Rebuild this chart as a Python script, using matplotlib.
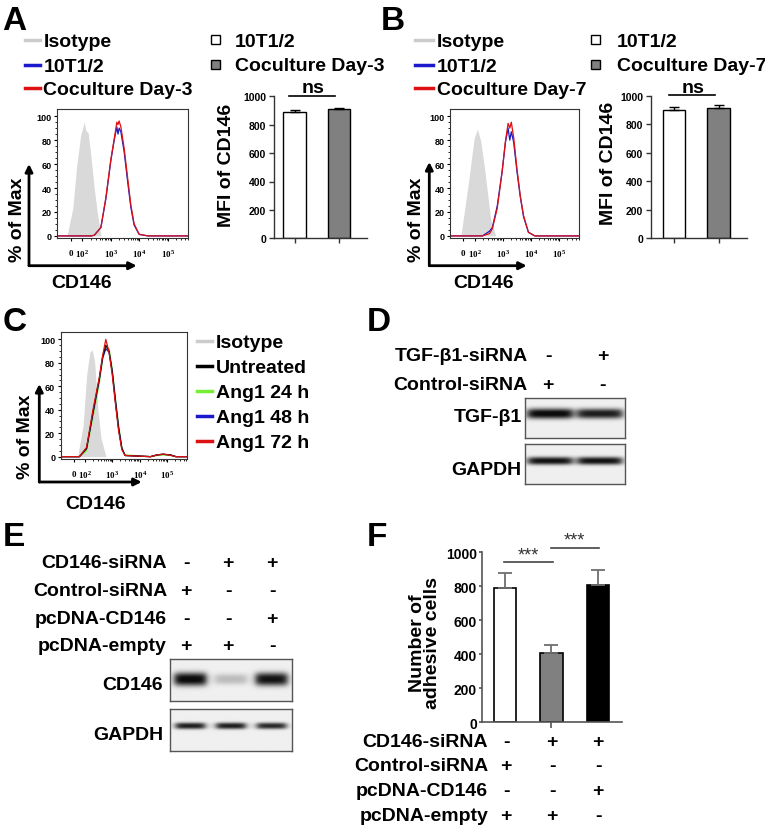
import numpy as np
import matplotlib
matplotlib.use('Agg')
import matplotlib.pyplot as plt
from matplotlib.patches import Rectangle, FancyArrowPatch
from matplotlib.lines import Line2D

plt.rcParams['font.family'] = ['Liberation Sans', 'DejaVu Sans']
plt.rcParams['mathtext.fontset'] = 'custom'
plt.rcParams['mathtext.rm'] = 'Liberation Serif:bold'
plt.rcParams['mathtext.bf'] = 'Liberation Serif:bold'

W, H = 765, 828

# ---- flow cytometry histograms: CD146 intensity vs % of max ----
flow_ticks = [0, 1e2, 1e3, 1e4, 1e5]
flow_ticklabels = [r'$0$', r'$10^2$', r'$10^3$', r'$10^4$', r'$10^5$']

a_iso_x = [-35, 16, 51, 85, 116, 133, 160, 199, 260, 341, 446]
a_iso_y = [0, 23, 59, 84, 95, 88, 86, 67, 40, 18, 1]
a_red_x = [-145, 200, 260, 446, 668, 1000, 1309, 1622, 1780, 1950, 2244, 2931, 3890, 5010, 6546, 9840, 20000, 560000]
a_red_y = [0, 0, 0.5, 7, 32, 64, 81, 95, 93, 96, 91, 73, 48, 26, 10, 1.4, 0, 0]
a_blue_y = [0, 0, 0.5, 7, 31, 63, 80, 91, 85, 90, 87, 70, 45, 24, 9, 1.2, 0, 0]

b_iso_x = [-23, 45, 96, 126, 165, 217, 283, 370, 555]
b_iso_y = [0, 45, 82, 89, 79, 59, 37, 14, 0.5]
b_red_x = [-145, 189, 340, 426, 636, 953, 1245, 1549, 1778, 2018, 2455, 3206, 4188, 5495, 8222, 13960, 560000]
b_red_y = [0, 0, 2, 6, 23, 54, 79, 94, 90, 95, 82, 56, 34, 17, 3, 0, 0]
b_blue_y = [0, 0, 4, 7, 25, 54, 78, 90, 80, 87, 78, 54, 33, 16, 3, 0, 0]

c_iso_x = [34, 85, 116, 152, 188, 228, 298, 388, 583]
c_iso_y = [0, 27, 69, 89, 91, 81, 41, 16, 0.5]
c_x = [-145, 51, 116, 199, 341, 446, 583, 767, 1000, 1309, 1706, 2244, 2931, 25000, 44000, 72000, 130000, 210000, 560000]
c_untreated = [0, 0, 7, 38, 67, 85, 95, 90, 72, 47, 24, 7, 1, 0, 1.5, 2, 1.5, 0, 0]
c_ang24 = [0, 0, 5, 34, 63, 83, 93, 92, 75, 50, 27, 8, 1.5, 0, 1.0, 1.5, 1.0, 0, 0]
c_ang48 = [0, 0, 7, 37, 66, 84, 92, 89, 73, 48, 25, 7, 1, 0, 1.6, 2, 1.6, 0, 0]
c_ang72 = [0, 0, 8, 40, 68, 86, 100, 89, 70, 45, 22, 6, 1, 0, 1.5, 2.2, 1.2, 0, 0]

# ---- MFI bar charts ----
a_groups = ['10T1/2', 'Coculture Day-3']
a_mfi = [887, 911]
a_err = [19, 9]
b_groups = ['10T1/2', 'Coculture Day-7']
b_mfi = [900, 912]
b_err = [22, 23]

# ---- adhesion assay ----
f_cells = [790, 408, 808]
f_err = [88, 47, 90]

# ---- western blot band intensities (relative) ----
d_tgf = [1.0, 0.9]
d_gapdh = [0.95, 0.95]
e_cd146 = [1.0, 0.22, 0.95]
e_gapdh = [0.9, 0.9, 0.85]

d_rows = ['TGF-β1-siRNA', 'Control-siRNA']
d_signs = [['-', '+'], ['+', '-']]
e_rows = ['CD146-siRNA', 'Control-siRNA', 'pcDNA-CD146', 'pcDNA-empty']
e_signs = [['-', '+', '+'], ['+', '-', '-'], ['-', '-', '+'], ['+', '+', '-']]

fig = plt.figure(figsize=(W / 100, H / 100), dpi=100)


def frac(x, y):
    return x / W, 1 - y / H


def box(l, t, r, b):
    return [l / W, 1 - b / H, (r - l) / W, (b - t) / H]


def txt(x, y, s, size=14, **kw):
    kw.setdefault('va', 'baseline')
    kw.setdefault('ha', 'left')
    kw.setdefault('fontweight', 'bold')
    fig.text(x / W, 1 - y / H, s, fontsize=size, **kw)


def arrow(x0, y0, x1, y1):
    fig.add_artist(FancyArrowPatch(frac(x0, y0), frac(x1, y1), transform=fig.transFigure,
                                   arrowstyle='-|>', mutation_scale=11, lw=2, color='black',
                                   shrinkA=0, shrinkB=0))


def hline(x0, x1, y, color, lw=2.5):
    fig.add_artist(Line2D([x0 / W, x1 / W], [1 - y / H] * 2, color=color, lw=lw,
                          transform=fig.transFigure))


def square(xc, yc, color, size=9):
    fig.add_artist(Rectangle(((xc - size / 2) / W, 1 - (yc + size / 2) / H), size / W, size / H,
                             transform=fig.transFigure, facecolor=color, edgecolor='black', lw=1))


def flow_axes(l, t, r, b):
    ax = fig.add_axes(box(l, t, r, b))
    ax.set_xscale('symlog', linthresh=100, linscale=0.36, subs=[2, 3, 4, 5, 6, 7, 8, 9])
    ax.set_xlim(-120, 5.2e5)
    ax.set_ylim(-2, 106)
    ax.set_xticks(flow_ticks)
    ax.set_xticklabels(flow_ticklabels)
    ax.set_yticks(range(0, 101, 20))
    ax.set_yticks(range(0, 101, 5), minor=True)
    ax.tick_params(labelsize=6.5, length=2.5, width=0.8, pad=1.5)
    ax.tick_params(which='minor', length=1.5, width=0.6)
    ax.tick_params(axis='x', labelsize=6.5, pad=4)
    for lab in ax.get_yticklabels():
        lab.set_fontweight('bold')
    for s in ax.spines.values():
        s.set_color('#333')
        s.set_linewidth(0.8)
    return ax


def mfi_axes(l, t, r, b, vals, errs, xlim):
    ax = fig.add_axes(box(l, t, r, b))
    x = np.arange(len(vals))
    ax.bar(x, vals, width=0.51, color=['white', '#808080'], edgecolor='black', lw=1)
    ax.errorbar(x, vals, yerr=[np.zeros(len(vals)), errs], fmt='none', ecolor='black',
                elinewidth=1, capsize=3.5, capthick=1)
    ax.set_xlim(xlim)
    ax.set_ylim(0, 1000)
    ax.set_yticks(range(0, 1001, 200))
    ax.set_xticks(x)
    ax.set_xticklabels([])
    ax.spines[['top', 'right']].set_visible(False)
    for s in ax.spines.values():
        s.set_color('#333')
        s.set_linewidth(1)
    ax.tick_params(labelsize=7.5, length=3.5, width=1, pad=2, colors='#333', labelcolor='black')
    for lab in ax.get_yticklabels():
        lab.set_fontweight('bold')
    ax.plot([-0.12, 0.91], [1004, 1004], color='black', lw=1.2, clip_on=False)
    ax.text(0.42, 1028, 'ns', ha='center', va='baseline', fontsize=14, fontweight='bold', clip_on=False)
    return ax


def blot(l, t, r, b, levels, hw, yc, thick):
    ax = fig.add_axes(box(l, t, r, b))
    n = len(levels)
    X, Y = np.meshgrid(np.linspace(0, n, 400), np.linspace(0, 1, 120))
    img = np.full(X.shape, 0.94)
    for i, lv in enumerate(levels):
        across = 1 / (1 + np.exp((np.abs(X - (i + 0.5)) - hw) / 0.05))
        down = np.exp(-np.abs((Y - yc) / (thick * (0.75 + 0.25 * lv))) ** 2.5)
        img -= 0.92 * lv * across * down
    img = np.clip(img, 0.05, 1)
    ax.imshow(img, cmap='gray', vmin=0, vmax=1, extent=(0, n, 1, 0), aspect='auto',
              interpolation='bilinear')
    ax.set_xticks([])
    ax.set_yticks([])
    for s in ax.spines.values():
        s.set_color('#555')
        s.set_linewidth(1)
    return ax


# ---------------- panel letters ----------------
for letter, x, y in [('A', 2, 30), ('B', 381, 30), ('C', 3, 331), ('D', 367, 331),
                     ('E', 3, 545.5), ('F', 367, 545.5)]:
    txt(x, y, letter, size=24)

# ---------------- panel A ----------------
ax = flow_axes(57.3, 110, 188.3, 239.3)
ax.fill_between(a_iso_x, a_iso_y, color='#d9d9d9', lw=0)
ax.plot(a_red_x, a_blue_y, color='#1a1acc', lw=0.9)
ax.plot(a_red_x, a_red_y, color='#dd1111', lw=0.9)
for yb, col, lab in zip([46.7, 71.7, 95], ['#cccccc', '#1a1acc', '#dd1111'],
                        ['Isotype', a_groups[0], a_groups[1]]):
    hline(25, 40, yb - 6, col)
    txt(43.3, yb, lab)
arrow(29, 266.7, 29, 165)
arrow(29, 266.7, 136.7, 266.7)
txt(18, 220, '% of Max', rotation=90, ha='center', va='center')
txt(82, 288.3, 'CD146', ha='center')

mfi_axes(274, 97.3, 366.7, 239.3, a_mfi, a_err, (-0.467, 1.625))
txt(226.7, 165, 'MFI of CD146', rotation=90, ha='center', va='center')
for yb, col, lab in zip([46.7, 71], ['white', '#808080'], a_groups):
    square(215.5, yb - 6, col)
    txt(235, yb, lab)

# ---------------- panel B ----------------
ax = flow_axes(450, 110, 579, 239.3)
ax.fill_between(b_iso_x, b_iso_y, color='#d9d9d9', lw=0)
ax.plot(b_red_x, b_blue_y, color='#1a1acc', lw=0.9)
ax.plot(b_red_x, b_red_y, color='#dd1111', lw=0.9)
for yb, col, lab in zip([46.7, 71.7, 95], ['#cccccc', '#1a1acc', '#dd1111'],
                        ['Isotype', b_groups[0], b_groups[1]]):
    hline(415, 433, yb - 6, col)
    txt(437, yb, lab)
arrow(429.3, 266.7, 429.3, 163)
arrow(429.3, 266.7, 526.7, 266.7)
txt(417, 220, '% of Max', rotation=90, ha='center', va='center')
txt(484, 288.3, 'CD146', ha='center')

mfi_axes(650.7, 96.7, 746.7, 239.3, b_mfi, b_err, (-0.52, 1.625))
txt(608.3, 163, 'MFI of CD146', rotation=90, ha='center', va='center')
for yb, col, lab in zip([46.7, 71], ['white', '#808080'], b_groups):
    square(595, yb - 6, col)
    txt(616.7, yb, lab)

# ---------------- panel C ----------------
ax = flow_axes(60.7, 333.3, 186.7, 460)
ax.fill_between(c_iso_x, c_iso_y, color='#d9d9d9', lw=0)
c_series = [('Untreated', c_untreated, 'black'), ('Ang1 24 h', c_ang24, '#77ee33'),
            ('Ang1 48 h', c_ang48, '#1a1acc'), ('Ang1 72 h', c_ang72, '#dd1111')]
for name, ys, col in [c_series[1], c_series[2], c_series[0], c_series[3]]:
    ax.plot(c_x, ys, color=col, lw=0.9)
legend_c = [('Isotype', '#cccccc')] + [(n, c) for n, _, c in c_series]
for i, (name, col) in enumerate(legend_c):
    yb = 348.3 + i * 24.85
    hline(196.7, 211.7, yb - 6, col)
    txt(216, yb, name)
arrow(39.3, 483, 39.3, 385)
arrow(39.3, 483, 141.7, 483)
txt(26, 437, '% of Max', rotation=90, ha='center', va='center')
txt(96, 509, 'CD146', ha='center')

# ---------------- panel D ----------------
for i, (row, signs) in enumerate(zip(d_rows, d_signs)):
    yb = 360.7 + i * 29.3
    txt(528, yb, row, ha='right')
    for xs, s in zip([548, 603], signs):
        txt(xs, yb, s, ha='center')
blot(525, 399.3, 625, 439.3, d_tgf, 0.45, 0.39, 0.13)
blot(525, 445, 625, 485, d_gapdh, 0.44, 0.42, 0.10)
txt(521.7, 421.7, 'TGF-β1', ha='right')
txt(521.7, 475, 'GAPDH', ha='right')

# ---------------- panel E ----------------
for i, (row, signs) in enumerate(zip(e_rows, e_signs)):
    yb = 568.3 + i * 27.7
    txt(167, yb, row, ha='right')
    for xs, s in zip([186, 228, 272], signs):
        txt(xs, yb, s, ha='center')
blot(170, 660, 291.7, 701.7, e_cd146, 0.39, 0.48, 0.16)
blot(170, 710, 291.7, 751.7, e_gapdh, 0.36, 0.40, 0.08)
txt(163, 690, 'CD146', ha='right')
txt(163, 740, 'GAPDH', ha='right')

# ---------------- panel F ----------------
ax = fig.add_axes(box(481.7, 553.3, 621.7, 723.3))
x = np.arange(len(f_cells))
ax.bar(x, f_cells, width=0.49, color=['white', '#808080', 'black'], edgecolor='black', lw=1.2)
ax.errorbar(x, f_cells, yerr=[np.zeros(len(f_cells)), f_err], fmt='none', ecolor='#6e6e6e',
            elinewidth=1.3, capsize=4.8, capthick=1.3)
ax.set_xlim(-0.5, 2.51)
ax.set_ylim(0, 1000)
ax.set_yticks(range(0, 1001, 200))
ax.set_xticks([1])
ax.set_xticklabels([])
ax.spines[['top', 'right']].set_visible(False)
for s in ax.spines.values():
    s.set_color('#555')
    s.set_linewidth(1.2)
ax.tick_params(labelsize=10, length=2.5, width=1.2, pad=1, colors='#555', labelcolor='black')
ax.tick_params(axis='x', length=4)
for lab in ax.get_yticklabels():
    lab.set_fontweight('bold')
ax.plot([-0.015, 1.04], [945, 945], color='#444', lw=1.2, clip_on=False)
ax.plot([0.99, 2.03], [1024, 1024], color='#444', lw=1.2, clip_on=False)
ax.text(0.5, 960, '***', ha='center', va='baseline', fontsize=13, color='#333', clip_on=False)
ax.text(1.5, 1046, '***', ha='center', va='baseline', fontsize=13, color='#333', clip_on=False)
txt(425, 643, 'Number of\nadhesive cells', rotation=90, ha='center', va='center',
    linespacing=0.85, multialignment='center')
for i, (row, signs) in enumerate(zip(e_rows, e_signs)):
    yb = 746.7 + i * 24.7
    txt(488.3, yb, row, ha='right')
    for xs, s in zip([506, 552, 598], signs):
        txt(xs, yb, s, ha='center')

fig.savefig('out.png', dpi=100)
